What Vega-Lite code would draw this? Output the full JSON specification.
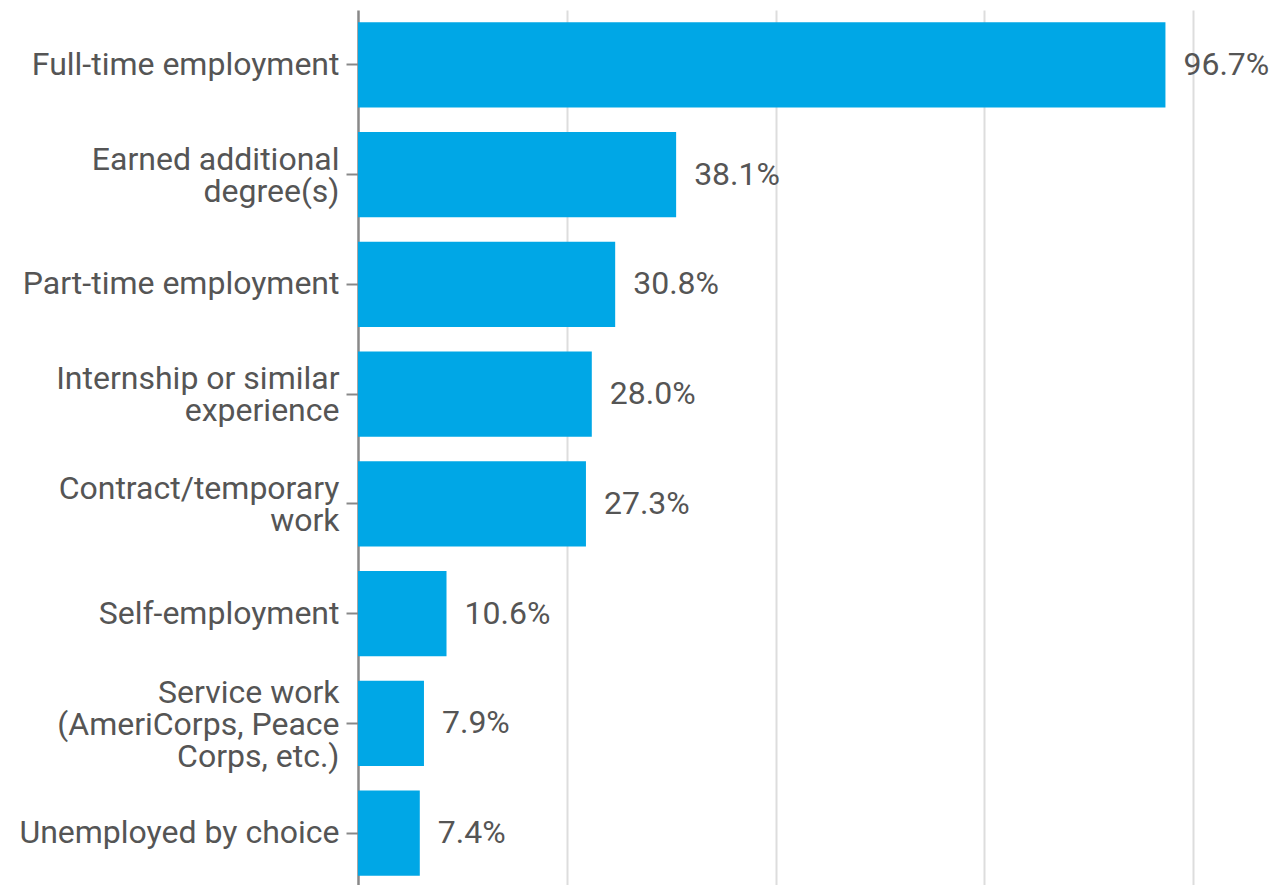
{
  "$schema": "https://vega.github.io/schema/vega-lite/v6.json",
  "width": 835,
  "height": 878,
  "autosize": "none",
  "padding": {"left": 358, "top": 10, "right": 83, "bottom": 0},
  "config": {"view": {"stroke": null}, "font": "Roboto"},
  "data": {
    "values": [
      {"label": "Full-time employment", "value": 96.7},
      {"label": "Earned additional|degree(s)", "value": 38.1},
      {"label": "Part-time employment", "value": 30.8},
      {"label": "Internship or similar|experience", "value": 28.0},
      {"label": "Contract/temporary|work", "value": 27.3},
      {"label": "Self-employment", "value": 10.6},
      {"label": "Service work|(AmeriCorps, Peace|Corps, etc.)", "value": 7.9},
      {"label": "Unemployed by choice", "value": 7.4}
    ]
  },
  "encoding": {
    "y": {
      "field": "label",
      "type": "nominal",
      "sort": null,
      "scale": {"paddingInner": 0.225, "paddingOuter": 0.1125},
      "axis": {
        "title": null,
        "labelExpr": "split(datum.label, '|')",
        "labelFontSize": 32,
        "labelLineHeight": 32,
        "labelOffset": {"expr": "-(length(split(datum.label, '|')) - 1) * 15"},
        "labelColor": "#555555",
        "labelPadding": 7,
        "labelLimit": 400,
        "tickSize": 12,
        "tickWidth": 2,
        "tickColor": "#888888",
        "domainColor": "#888888",
        "domainWidth": 2.5
      }
    },
    "x": {
      "field": "value",
      "type": "quantitative",
      "scale": {"domain": [0, 100]},
      "axis": {
        "title": null,
        "labels": false,
        "ticks": false,
        "domain": false,
        "grid": true,
        "values": [25, 50, 75, 100],
        "gridColor": "#dddddd",
        "gridWidth": 2
      }
    }
  },
  "layer": [
    {"mark": {"type": "bar", "color": "#00a7e6"}},
    {
      "mark": {
        "type": "text",
        "align": "left",
        "baseline": "middle",
        "dx": 18,
        "fontSize": 32,
        "color": "#555555",
        "text": {"expr": "format(datum.value, '.1f') + '%'"}
      }
    }
  ]
}
